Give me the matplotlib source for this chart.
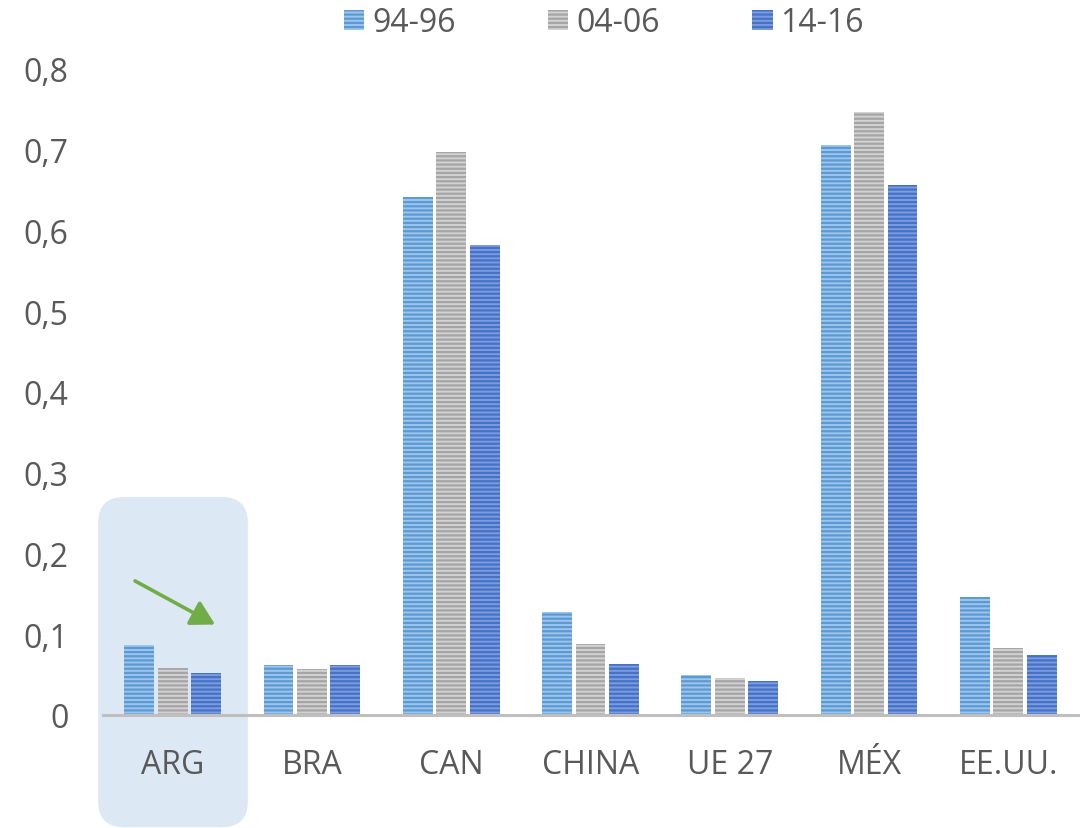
import matplotlib
matplotlib.use("Agg")
import matplotlib.pyplot as plt
import numpy as np
from matplotlib.patches import FancyBboxPatch, FancyArrowPatch
from matplotlib.ticker import FixedLocator

categories = ["ARG", "BRA", "CAN", "CHINA", "UE 27", "MÉX", "EE.UU."]
series_names = ["94-96", "04-06", "14-16"]
v_9496 = [0.087, 0.062, 0.641, 0.128, 0.050, 0.706, 0.146]
v_0406 = [0.058, 0.057, 0.697, 0.088, 0.046, 0.747, 0.083]
v_1416 = [0.052, 0.062, 0.582, 0.063, 0.042, 0.656, 0.074]
y_ticks = [0, 0.1, 0.2, 0.3, 0.4, 0.5, 0.6, 0.7, 0.8]
y_tick_labels = ["0", "0,1", "0,2", "0,3", "0,4", "0,5", "0,6", "0,7", "0,8"]

face_colors = ["#9fc5ea", "#d2d2d2", "#7d9be0"]
stripe_colors = ["#5b9bd5", "#a5a5a5", "#4472c4"]

plt.rcParams['font.family'] = ['Open Sans', 'DejaVu Sans']
plt.rcParams['hatch.linewidth'] = 1.6

FS = 23

fig = plt.figure(figsize=(10.91, 8.29), dpi=100)
ax = fig.add_axes([103/1091, 1-716/829, (1078-103)/1091, (716-70)/829])
ax.patch.set_alpha(0)

x = np.arange(len(categories))
width = 0.215
step = 0.24
handles = []
for i, vals in enumerate([v_9496, v_0406, v_1416]):
    pos = x + (i - 1) * step
    bars = ax.bar(pos, vals, width, color=face_colors[i], edgecolor=stripe_colors[i],
                  linewidth=0, hatch='----', zorder=3, label=series_names[i])
    handles.append(bars)

ax.set_xlim(-0.5, len(categories) - 0.5)
ax.set_ylim(0, 0.8)
for s in ["top", "right", "left"]:
    ax.spines[s].set_visible(False)
ax.spines["bottom"].set_color("#bfbfbf")
ax.spines["bottom"].set_linewidth(2.2)
ax.spines["bottom"].set_zorder(4)

ax.yaxis.set_major_locator(FixedLocator(y_ticks))
ax.set_yticklabels(y_tick_labels)
ax.set_xticks(x)
ax.set_xticklabels(categories)
ax.tick_params(axis='y', length=0, pad=25, labelsize=FS, labelcolor="#595959")
ax.tick_params(axis='x', length=0, pad=24, labelsize=FS, labelcolor="#595959")

# highlight box around ARG (drawn in pixel space for round corners)
fig.canvas.draw()
p0 = ax.transData.transform((-0.535, 0.27))
p1 = ax.transData.transform((0.54, -0.139))
hl = FancyBboxPatch((p0[0], p1[1]), p1[0] - p0[0], p0[1] - p1[1],
                    boxstyle="round,pad=0,rounding_size=26",
                    transform=None, facecolor="#dde8f5", edgecolor="none",
                    zorder=-1)
fig.patches.append(hl)

arrow = FancyArrowPatch((-0.27, 0.166), (0.305, 0.112), arrowstyle="-|>,head_length=8,head_width=4.5",
                        mutation_scale=1.8, color="#70ad47", linewidth=2.6, zorder=5,
                        shrinkA=0, shrinkB=0)
ax.add_patch(arrow)

leg = fig.legend(handles=handles, labels=series_names, loc="upper center",
                 bbox_to_anchor=(604/1091, 1.026), ncol=3, frameon=False,
                 fontsize=FS, handlelength=0.63, handleheight=0.63,
                 handletextpad=0.25, columnspacing=2.9)
for t in leg.get_texts():
    t.set_color("#595959")

fig.savefig("out.png", dpi=100)
